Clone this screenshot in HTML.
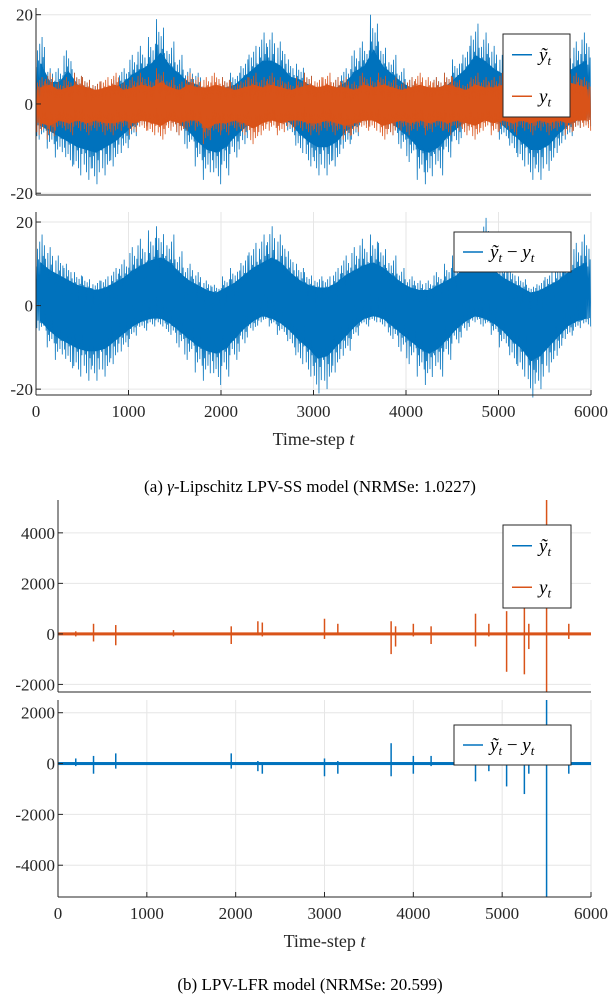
<!DOCTYPE html>
<html><head><meta charset="utf-8">
<style>
body{margin:0;background:#fff;}
svg{display:block;font-family:"Liberation Serif",serif;}
</style></head>
<body>
<svg id="fig" width="614" height="1000" viewBox="0 0 614 1000" xmlns="http://www.w3.org/2000/svg">
<text x="310" y="492" font-size="17" text-anchor="middle">(a) <tspan font-style="italic">γ</tspan>-Lipschitz LPV-SS model (NRMSe: 1.0227)</text>
<text x="310" y="990" font-size="17" text-anchor="middle">(b) LPV-LFR model (NRMSe: 20.599)</text>
</svg>
<script>
// ---- panel a data (binned envelopes, 100 steps per bin) ----
const binSize = 100;
const aTildeMax = [15,8,8,12,7,6,5,4,6,8,11,13,15,19,14,11,8,7,4,4,6,7,10,13,16,16,14,10,9,7,4,5,6,8,12,14,20,14,11,8,6,4,4,6,7,10,13,18,16,13,11,8,6,4,4,6,9,12,14,16];
const aTildeMin = [-8,-10,-12,-14,-16,-17,-18,-16,-14,-11,-8,-5,-4,-4,-5,-7,-10,-14,-17,-18,-16,-12,-9,-6,-4,-4,-5,-7,-11,-14,-16,-16,-14,-10,-8,-5,-4,-5,-7,-10,-13,-17,-18,-16,-12,-9,-6,-4,-4,-5,-8,-11,-14,-17,-17,-15,-11,-8,-6,-5];
const aYMax = [6,7,5,6,7,6,5,6,7,5,6,7,6,8,6,5,7,6,6,7,6,5,6,7,6,7,6,5,6,7,6,7,6,6,5,7,6,7,6,5,6,7,6,6,7,6,5,7,6,6,7,6,5,6,7,6,7,8,7,6];
const aYMin = [-7,-8,-6,-7,-6,-7,-6,-7,-7,-6,-7,-6,-7,-8,-6,-7,-6,-6,-9,-7,-7,-6,-7,-9,-7,-6,-7,-6,-6,-7,-7,-6,-7,-8,-7,-6,-6,-8,-7,-6,-7,-6,-7,-6,-7,-6,-7,-8,-6,-7,-6,-7,-6,-7,-6,-7,-6,-7,-6,-6];
const aErrMax = [17,14,12,10,8,7,6,7,9,11,14,16,18,19,17,13,10,8,6,5,7,9,12,15,17,19,17,13,10,8,7,7,9,12,14,16,17,15,12,9,7,6,6,8,10,12,15,16,21,14,11,9,7,5,6,8,10,13,15,17];
const aErrMin = [-6,-10,-13,-15,-17,-18,-18,-17,-14,-11,-8,-6,-5,-5,-7,-10,-13,-16,-18,-19,-17,-13,-9,-6,-4,-5,-7,-10,-14,-17,-21,-20,-16,-12,-8,-5,-4,-5,-8,-11,-14,-17,-19,-17,-13,-9,-6,-4,-5,-7,-10,-14,-17,-22,-20,-16,-12,-8,-6,-5];
// ---- panel b data: baseline noise and spikes ----
const bNoise = 60;
const bYSpikeT   = [200,400,650,1300,1950,2250,2300,3000,3150,3750,3800,4000,4200,4700,4850,5050,5250,5300,5500,5750];
const bYSpikeMax = [100,400,350,150,300,500,450,600,400,500,300,400,300,800,400,900,1200,400,5300,400];
const bYSpikeMin = [-100,-300,-450,-100,-400,-50,-100,-200,0,-800,-500,-100,-400,-500,-100,-1500,-1600,-600,-2300,-200];
const bErrSpikeT   = [200,400,650,1950,2250,2300,3000,3150,3750,4000,4200,4700,4850,5050,5250,5300,5500,5750];
const bErrSpikeMax = [200,300,400,400,100,50,200,100,800,300,300,100,100,100,100,50,2500,100];
const bErrSpikeMin = [-100,-400,-200,-200,-300,-400,-500,-400,-500,-400,-100,-700,-300,-900,-1200,-400,-5250,-400];
const xTicks = [0,1000,2000,3000,4000,5000,6000];
const aTicks = [-20,0,20];
const bTopTicks = [-2000,0,2000,4000];
const bBotTicks = [-4000,-2000,0,2000];

const BLUE="#0072BD", ORANGE="#D95319";
const svg=document.getElementById('fig');
const NS="http://www.w3.org/2000/svg";
function mk(tag,attrs,parent){const e=document.createElementNS(NS,tag);for(const k in attrs)e.setAttribute(k,attrs[k]);(parent||svg).appendChild(e);return e;}

function makeAxes(name,x0,x1,ytop,ybot,ymin,ymax,yticks,vgrid,showX){
  const g=mk('g',{});
  
  
  const sx=t=>x0+(t/6000)*(x1-x0);
  const sy=v=>ybot-(v-ymin)/(ymax-ymin)*(ybot-ytop);
  yticks.forEach(v=>{
    const l=mk('line',{x1:x0,x2:x1,y1:sy(v),y2:sy(v),stroke:'#e6e6e6','stroke-width':1},g);
    
    
  });
  if(vgrid) xTicks.forEach(t=>{
    const l=mk('line',{x1:sx(t),x2:sx(t),y1:ytop,y2:ybot,stroke:'#e6e6e6','stroke-width':1},g);
    
    
  });
  const plot=mk('g',{},g);
  
  
  const ax=mk('g',{},g);
  
  
  mk('line',{x1:x0,x2:x0,y1:ytop,y2:ybot,stroke:'#262626','stroke-width':1},ax);
  mk('line',{x1:x0,x2:x1,y1:ybot,y2:ybot,stroke:'#262626','stroke-width':1},ax);
  yticks.forEach(v=>{
    mk('line',{x1:x0,x2:x0+5,y1:sy(v),y2:sy(v),stroke:'#262626'},ax);
    const t=mk('text',{x:x0-3,y:sy(v)+6,'font-size':17,'text-anchor':'end',fill:'#262626'},g);
    t.textContent=v;
    
    
  });
  if(showX){
    xTicks.forEach(tv=>{
      mk('line',{x1:sx(tv),x2:sx(tv),y1:ybot,y2:ybot-5,stroke:'#262626'},ax);
      const t=mk('text',{x:sx(tv),y:ybot+22,'font-size':17,'text-anchor':'middle',fill:'#262626'},g);
      t.textContent=tv;
      
      
    });
    const xl=mk('text',{x:(x0+x1)/2,y:ybot+50,'font-size':18,'text-anchor':'middle',fill:'#262626'},g);
    xl.innerHTML='Time-step <tspan font-style="italic">t</tspan>';
    
    
  }
  return {sx,sy,plot};
}

function band(ax,maxArr,minArr,color,name){
  let pts=[];
  const fr=[0.55,0.8,0.65,0.9,0.6,1.0,0.7,0.85];
  for(let i=0;i<maxArr.length;i++){
    const t0=i*binSize;
    for(let k=0;k<8;k++){
      const f=fr[(k+i)%8];
      pts.push([ax.sx(t0+k*12.5+3),ax.sy(maxArr[i]*f)]);
      pts.push([ax.sx(t0+k*12.5+9),ax.sy(minArr[i]*fr[(k+i+3)%8])]);
    }
  }
  let top=[],bot=[];
  for(let i=0;i<maxArr.length;i++){
    const tc=i*binSize+binSize/2;
    top.push(ax.sx(tc)+','+ax.sy(maxArr[i]*0.6));
    bot.unshift(ax.sx(tc)+','+ax.sy(minArr[i]*0.6));
  }
  const p=mk('polygon',{points:top.concat(bot).join(' '),fill:color,stroke:color,'stroke-width':1},ax.plot);
  
  
  const l=mk('polyline',{points:pts.map(q=>q.join(',')).join(' '),fill:'none',stroke:color,'stroke-width':0.8},ax.plot);
  
  
}

function spikes(ax,T,MX,MN,color,name){
  const g=mk('g',{},ax.plot);
  
  
  const base=mk('rect',{x:ax.sx(0),y:ax.sy(bNoise),width:ax.sx(6000)-ax.sx(0),height:ax.sy(-bNoise)-ax.sy(bNoise),fill:color},g);
  
  
  T.forEach((t,i)=>{
    const l=mk('line',{x1:ax.sx(t),x2:ax.sx(t),y1:ax.sy(MX[i]),y2:ax.sy(MN[i]),stroke:color,'stroke-width':1.5},g);
    
    
  });
}

function legend(name,x,y,w,h,entries){
  const g=mk('g',{});
  
  
  mk('rect',{x,y,width:w,height:h,fill:'#fff',stroke:'#262626','stroke-width':1},g);
  entries.forEach((e,i)=>{
    const cy=y+h/(entries.length)*(i+0.5);
    mk('line',{x1:x+9,x2:x+29,y1:cy,y2:cy,stroke:e.c,'stroke-width':1.5},g);
    const t=mk('text',{x:x+36,y:cy+6,'font-size':19,'font-style':'italic'},g);
    t.innerHTML=e.html;
    
    
  });
}
const YT='ỹ<tspan font-size="13" dy="4">t</tspan>';
const Y='y<tspan font-size="13" dy="4">t</tspan>';
const ERR='ỹ<tspan font-size="13" dy="4">t</tspan><tspan dy="-4" font-style="normal"> − </tspan>y<tspan font-size="13" dy="4">t</tspan>';

const a1=makeAxes('panel-a-top',36,591,8,195,-20.4,21.5,aTicks,false,false);
band(a1,aTildeMax,aTildeMin,BLUE,'series-ytilde');
band(a1,aYMax,aYMin,ORANGE,'series-y');
legend('legend-a-top',503,34,67,83,[{c:BLUE,html:YT},{c:ORANGE,html:Y}]);
const a2=makeAxes('panel-a-bottom',36,591,212,395,-21.4,22.4,aTicks,true,true);
band(a2,aErrMax,aErrMin,BLUE,'series-error');
legend('legend-a-bottom',454,232,117,40,[{c:BLUE,html:ERR}]);
const b1=makeAxes('panel-b-top',58,591,500,692,-2300,5300,bTopTicks,false,false);
spikes(b1,bYSpikeT,bYSpikeMax,bYSpikeMin,ORANGE,'series-y-lfr');
legend('legend-b-top',503,525,68,83,[{c:BLUE,html:YT},{c:ORANGE,html:Y}]);
const b2=makeAxes('panel-b-bottom',58,591,700,897,-5250,2500,bBotTicks,true,true);
spikes(b2,bErrSpikeT,bErrSpikeMax,bErrSpikeMin,BLUE,'series-error-lfr');
legend('legend-b-bottom',454,725,117,40,[{c:BLUE,html:ERR}]);
</script>
</body></html>
